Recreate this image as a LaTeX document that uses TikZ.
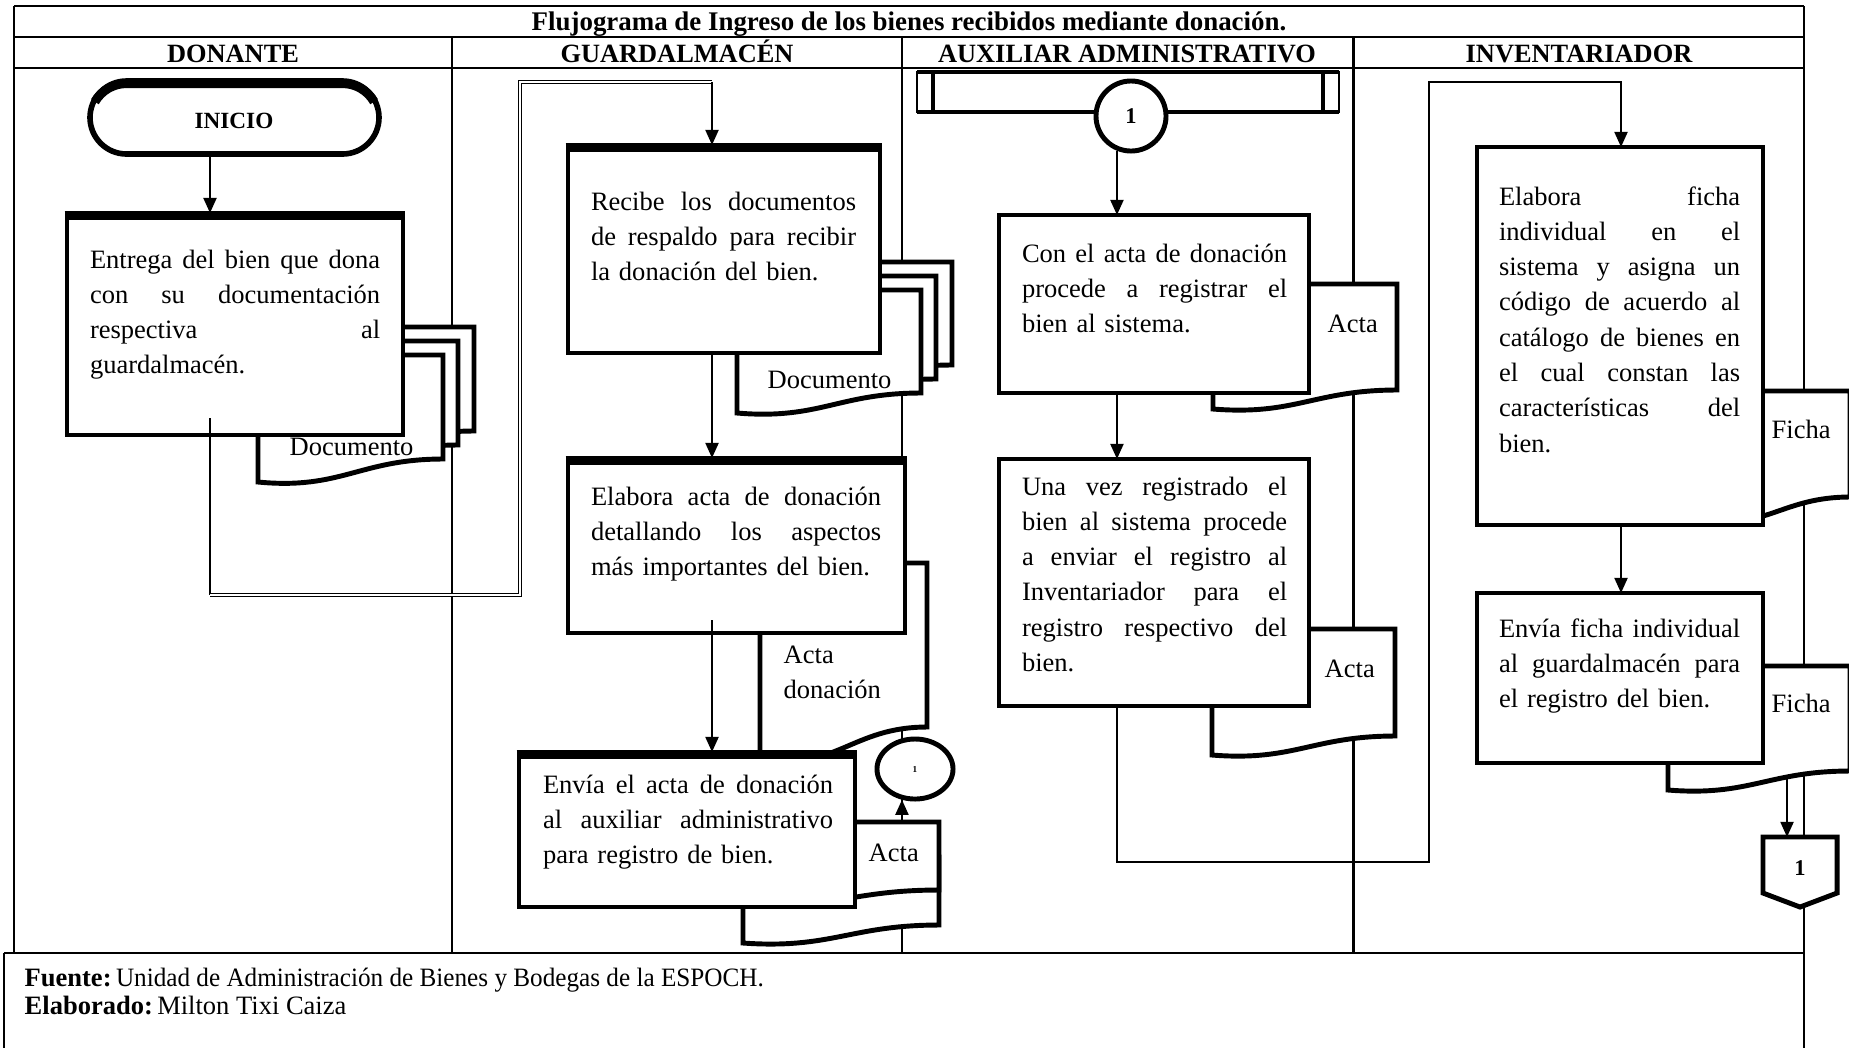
\documentclass[tikz,border=0pt]{standalone}
\usepackage{fontspec}
\usepackage{graphicx}
\setmainfont{Liberation Serif}
\usetikzlibrary{calc,arrows.meta,shapes.geometric,fit}
\setlength\parindent{0pt}
% width of the current process text, and one fully justified line of it
\newlength\twl
\newcommand\jl[1]{{\spaceskip=0pt\xspaceskip=0pt\makebox[\twl][s]{#1}}\\}
% document symbol: left, top, right, bottom-left, bottom-right (y grows downwards)
\newcommand\docshape[5]{%
  \draw[docst] (#1,#2) -- (#3,#2) -- (#3,#5)
    .. controls ({#1+0.55*(#3-#1)},#5) and ({#1+0.45*(#3-#1)},{#4+0.35*(#4-#5)}) .. (#1,#4) -- cycle;}
% stack of three documents
\newcommand\multidoc[5]{%
  \begin{scope}[shift={(31,-28)}]\docshape{#1}{#2}{#3}{#4}{#5}\end{scope}
  \begin{scope}[shift={(15,-14)}]\docshape{#1}{#2}{#3}{#4}{#5}\end{scope}
  \docshape{#1}{#2}{#3}{#4}{#5}}
% heavier top edge of a process box
\newcommand\thicktop[1]{\draw[line width=2.8pt] ([xshift=-0.7pt,yshift=-0.7pt]#1.north west) -- ([xshift=0.7pt,yshift=-0.7pt]#1.north east);}

\begin{document}
\begin{tikzpicture}[x=0.01cm,y=-0.01cm,
  framel/.style={line width=0.8pt},
  lanel/.style={line width=0.6pt},
  pbox/.style={draw, line width=1.4pt, fill=white, rectangle, inner sep=0pt, outer sep=0pt},
  docst/.style={draw, line width=1.4pt, fill=white, line join=miter},
  arr/.style={line width=0.6pt, -{Triangle[length=4.3pt,width=3.7pt]}},
  linkl/.style={line width=0.6pt},
  dbl/.style={double, double distance=0.7pt, line width=0.35pt, line join=miter},
  bodytxt/.style={font=\fontsize{7.54}{10.04}\selectfont, inner sep=0pt, outer sep=0pt, anchor=north west, align=left},
  twidth/.style={text width=#1, execute at begin node={\setlength\twl{#1}}},
  lbltxt/.style={font=\fontsize{7.54}{10.04}\selectfont, inner sep=0pt, anchor=base west},
  headtxt/.style={font=\fontsize{7.5}{9}\selectfont\bfseries, inner sep=0pt, anchor=base},
  numtxt/.style={font=\fontsize{6.4}{7}\selectfont\bfseries, inner sep=0pt},
]
\useasboundingbox (0,0) rectangle (1849,1047);

% guide coordinates for the connectors
\coordinate (xd) at (210,0);
\coordinate (xg) at (520,0);
\coordinate (xr) at (712,0);
\coordinate (xi) at (1429,0);
\coordinate (xf) at (1621,0);
\coordinate (xp) at (1787,0);
\coordinate (ytop) at (0,82);
\coordinate (yl) at (0,595);
\coordinate (ym) at (0,862);
\coordinate (fd2) at (1787,770);
\coordinate (adt) at (903,822);

% table frame and swimlanes
\draw[framel] (14,6) -- (1804,6);
\draw[lanel] (14,37) -- (1804,37);
\draw[lanel] (14,68) -- (1804,68);
\draw[framel] (14,6) -- (14,953);
\draw[framel] (1804,6) -- (1804,1060);
\foreach \x in {451.6,902,1353.5} \draw[lanel] (\x,37) -- (\x,953);
\draw[lanel] (4,953) -- (1804,953);
\draw[lanel] (4,953) -- (4,1060);

\node[headtxt, font=\fontsize{7.65}{9}\selectfont\bfseries] (title) at (909,30) {Flujograma de Ingreso de los bienes recibidos mediante donación.};
\node[headtxt] (h1) at (233,62) {DONANTE};
\node[headtxt] (h2) at (677,62) {GUARDALMACÉN};
\node[headtxt] (h3) at (1127,62) {AUXILIAR ADMINISTRATIVO};
\node[headtxt] (h4) at (1579,62) {INVENTARIADOR};

% off-page connector frame (drawn later) and its incoming arrow
\node[inner sep=0pt, outer sep=0pt, minimum width=0.74cm, minimum height=0.56cm] (pg) at (1800,865) {};
\draw[arr] (fd2) -- (xp |- pg.north);

% documents
\multidoc{258}{355}{443}{482}{459}
\multidoc{737}{290}{921}{413}{393}
\docshape{760}{563}{927}{760}{727}
\docshape{743}{857}{939}{943}{925}
\docshape{743}{822}{939}{905}{890}
\docshape{1213}{284}{1397}{409}{390}
\docshape{1212}{629}{1395}{755}{736}
\docshape{1700}{391}{1850}{521}{497}
\docshape{1668}{666}{1850}{790}{771}

% process boxes
\node[pbox, fit={(67,213)(403,435)}] (entrega) {};
\node[pbox, fit={(568,145)(880,353)}] (recibe) {};
\node[pbox, fit={(568,458)(905,633)}] (elab) {};
\node[pbox, fit={(519,752)(855,907)}] (envia) {};
\node[pbox, fit={(999,215)(1309,393)}] (con) {};
\node[pbox, fit={(999,459)(1309,706)}] (una) {};
\node[pbox, fit={(1477,147)(1763,525)}] (fichabox) {};
\node[pbox, fit={(1477,593)(1763,763)}] (envf) {};
\thicktop{entrega}
\thicktop{recibe}
\thicktop{elab}
\thicktop{envia}

% start terminal, with a heavier upper rim
\node[draw, line width=1.6pt, fill=white, rounded corners=0.365cm, inner sep=0pt, outer sep=0pt, fit={(90,81)(379,154)}] (inicio) {};
\begin{scope}[yshift=-0.7pt]
  \draw[line width=2.6pt] (94.9,99.25) arc[start angle=210, end angle=270, radius=36.5]
    -- (342.5,81) arc[start angle=270, end angle=330, radius=36.5];
\end{scope}
\node[numtxt, anchor=base, font=\fontsize{6.6}{7}\selectfont\bfseries] (inicioT) at (234,128) {INICIO};

% auxiliary bar, connectors "1"
\node[draw, line width=0.5pt, inner sep=0pt, outer sep=0pt, fit={(917,72)(1339,112)}] (bar) {};
\draw[line width=1.4pt] (bar.north west) -- (bar.north east);
\draw[line width=1.4pt] (bar.south west) -- (bar.south east);
\draw[line width=1.3pt] ($(bar.north west)+(16,0)$) -- ($(bar.south west)+(16,0)$);
\draw[line width=1.3pt] ($(bar.north east)+(-16,0)$) -- ($(bar.south east)+(-16,0)$);
\node[draw, circle, line width=1.4pt, fill=white, minimum size=0.70cm, inner sep=0pt, numtxt] (c1) at (1131,116) {1};
\node[draw, ellipse, line width=1.4pt, fill=white, minimum width=0.76cm, minimum height=0.60cm, inner sep=0pt,
      font=\fontsize{2.6}{3}\selectfont\bfseries] (e1) at (915,769) {1};
\draw[docst] (pg.north west) -- (pg.north east) -- (pg.south east) -- ($(pg.south)+(0,14)$) -- (pg.south west) -- cycle;
\node[numtxt] (pgt) at ($(pg.center)+(0,3)$) {1};

% connectors
\draw[arr] (xd |- inicio.south) -- (xd |- entrega.north);
\draw[linkl] ($(xd |- entrega.south)+(0,-17)$) -- (xd |- yl);
\draw[dbl] (xd |- yl) -- (xg |- yl) -- (xg |- ytop) -- (xr |- ytop);
\draw[arr] (xr |- ytop) -- (xr |- recibe.north);
\draw[arr] (xr |- recibe.south) -- (xr |- elab.north);
\draw[arr] ($(xr |- elab.south)+(0,-13)$) -- (xr |- envia.north);
\draw[arr] (e1.-113 |- adt) -- (e1.-113);
\draw[arr] (c1.-112) -- (c1.-112 |- con.north);
\draw[arr] (c1.-112 |- con.south) -- (c1.-112 |- una.north);
\draw[arr] (c1.-112 |- una.south) -- (c1.-112 |- ym) -- (xi |- ym) -- (xi |- ytop) -- (xf |- ytop) -- (xf |- fichabox.north);
\draw[arr] (xf |- fichabox.south) -- (xf |- envf.north);

% texts of the process boxes
\node[bodytxt, twidth=2.90cm] (t1) at (90,243.3) {\strut\jl{Entrega del bien que dona}\jl{con su documentación}\jl{respectiva al}guardalmacén.};
\node[bodytxt, twidth=2.65cm] (t2) at (591,185.3) {\strut\jl{Recibe los documentos}\jl{de respaldo para recibir}la donación del bien.};
\node[bodytxt, twidth=2.90cm] (t3) at (591,480.3) {\strut\jl{Elabora acta de donación}\jl{detallando los aspectos}más importantes del bien.};
\node[bodytxt, twidth=2.90cm] (t4) at (543,768.3) {\strut\jl{Envía el acta de donación}\jl{al auxiliar administrativo}para registro de bien.};
\node[bodytxt, twidth=2.65cm] (t5) at (1022,237.3) {\strut\jl{Con el acta de donación}\jl{procede a registrar el}bien al sistema.};
\node[bodytxt, twidth=2.65cm] (t6) at (1022,470.3) {\strut\jl{Una vez registrado el}\jl{bien al sistema procede}\jl{a enviar el registro al}\jl{Inventariador para el}\jl{registro respectivo del}bien.};
\node[bodytxt, twidth=2.41cm] (t7) at (1499,180.3) {\strut\jl{Elabora ficha}\jl{individual en el}\jl{sistema y asigna un}\jl{código de acuerdo al}\jl{catálogo de bienes en}\jl{el cual constan las}\jl{características del}bien.};
\node[bodytxt, twidth=2.41cm] (t8) at (1499,612.3) {\strut\jl{Envía ficha individual}\jl{al guardalmacén para}el registro del bien.};

% document labels
\node[lbltxt] (d1) at (289,455) {Documento};
\node[lbltxt] (d2) at (767,388) {Documento};
\node[lbltxt] (d3) at (783,663) {Acta};
\node[lbltxt] (d3b) at (783,698) {donación};
\node[lbltxt] (d4) at (868,861) {Acta};
\node[lbltxt] (d5) at (1327,332) {Acta};
\node[lbltxt] (d6) at (1324,677) {Acta};
\node[lbltxt] (d7) at (1771,438) {Ficha};
\node[lbltxt] (d8) at (1771,712) {Ficha};

% source note
\node[lbltxt] (f1) at (24,986) {\textbf{Fuente:}\,\scalebox{0.95}[1]{Unidad de Administración de Bienes y Bodegas de la ESPOCH.}};
\node[lbltxt] (f2) at (24,1014) {\textbf{Elaborado:}\,Milton Tixi Caiza};
\end{tikzpicture}
\end{document}
